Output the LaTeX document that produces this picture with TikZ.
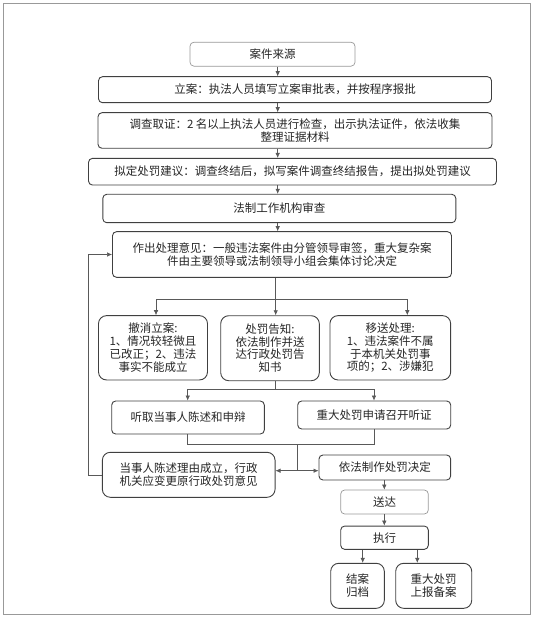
\documentclass[tikz,border=0pt]{standalone}
\usepackage{fontspec}
\setmainfont{Noto Sans CJK SC}
\usetikzlibrary{arrows.meta,positioning,calc}

\begin{document}
\begin{tikzpicture}[
  x=1pt, y=-1pt,
  >={Latex[length=5pt,width=4.5pt]},
  every node/.style={font=\fontsize{11.5}{12.8}\selectfont, text=black!85},
  box/.style={draw=black!75, line width=0.9pt, rounded corners=4pt, fill=white, align=center, inner sep=1pt},
  soft/.style={box, draw=black!40, line width=0.7pt},
  tall/.style={box, rounded corners=8pt},
  sz/.style 2 args={minimum width=#1pt, minimum height=#2pt},
  rel/.style={->, line width=0.6pt, draw=black!65},
  wire/.style={line width=0.6pt, draw=black!65}
]
\useasboundingbox (0,0) rectangle (548,617);
\draw[black!40, line width=0.8pt] (3.5,3.5) rectangle (530,614);

\node[soft, sz={165}{24}]   (src)      at (272.5,54.2)  {案件来源};
\node[box,  sz={393}{26}]   (lian)     at (295,89.7)    {立案：执法人员填写立案审批表，并按程序报批};
\node[box,  sz={394}{35.6}] (diaocha)  at (295,130.5)   {调查取证：2 名以上执法人员进行检查，出示执法证件，依法收集\\整理证据材料};
\node[box,  sz={408}{26.7}] (niding)   at (292.5,171.7) {拟定处罚建议：调查终结后，拟写案件调查终结报告，提出拟处罚建议};
\node[box,  sz={353}{28.4}] (shencha)  at (279.3,208.5) {法制工作机构审查};
\node[box,  sz={339}{45.6}] (yijian)   at (282,254.5)   {作出处理意见：一般违法案件由分管领导审签，重大复杂案\\件由主要领导或法制领导小组会集体讨论决定};
\node[tall, sz={109}{64.3}] (chexiao)  at (153,347.8)   {撤消立案:\\1、情况较轻微且\\已改正；2、违法\\事实不能成立};
\node[tall, sz={98.6}{65}]  (gaozhi)   at (270,348.2)   {处罚告知:\\依法制作并送\\达行政处罚告\\知书};
\node[tall, sz={120.7}{64.3}] (yisong) at (390.3,347.8) {移送处理:\\1、违法案件不属\\于本机关处罚事\\项的；2、涉嫌犯};
\node[box,  sz={152.6}{33}] (tingqu)   at (188,417.5)   {听取当事人陈述和申辩};
\node[box,  sz={153}{28}]   (tingzheng) at (374.2,415)  {重大处罚申请召开听证};
\node[tall, sz={172.7}{45}] (chengli)  at (188.7,474.8) {当事人陈述理由成立，行政\\机关应变更原行政处罚意见};
\node[box,  sz={131.7}{25}] (jueding)  at (384.8,467.5) {依法制作处罚决定};
\node[soft, sz={87.6}{24}]  (songda)   at (384.5,502)   {送达};
\node[box,  sz={87.6}{23.3}] (zhixing) at (384.5,537.7) {执行};
\node[tall, sz={53.6}{45}]  (jiean)    at (357.5,585.8) {结案\\归档};
\node[tall, sz={76}{45}]    (shangbao) at (433.7,585.8) {重大处罚\\上报备案};

\coordinate (spine) at (277.7,0);
\coordinate (mid)   at (275.7,0);
\coordinate (bl)    at (156,299);
\coordinate (brr)   at (407.3,299);
\coordinate (hl)    at (187.7,389);
\coordinate (hr)    at (374,389);
\coordinate (jl)    at (187.7,444);
\coordinate (jr)    at (374,444);
\coordinate (jm)    at (297.3,444);
\coordinate (jd)    at (297.3,470.7);
\coordinate (loop)  at (88.3,254.5);
\coordinate (tail)  at (384.3,0);
\coordinate (ka)    at (362.7,0);
\coordinate (kb)    at (417.3,0);

\foreach \a/\b in {src/lian, lian/diaocha, diaocha/niding, niding/shencha, shencha/yijian}
  \draw[rel] (\a.south -| spine) -- (\b.north -| spine);

\draw[rel] (yijian.south -| mid) -- (gaozhi.north -| mid);
\draw[wire] (bl) -- (brr);
\draw[rel] (bl) -- (bl |- chexiao.north);
\draw[rel] (brr) -- (brr |- yisong.north);

\draw[wire] (gaozhi.south -| mid) -- (mid |- hl);
\draw[wire] (hl) -- (hr);
\draw[rel] (hl) -- (hl |- tingqu.north);
\draw[rel] (hr) -- (hr |- tingzheng.north);

\draw[wire] (tingqu.south -| jl) -- (jl) -- (jr) -- (tingzheng.south -| jr);
\draw[wire] (jm) -- (jd);
\draw[rel] (jd) -- (jd -| chengli.east);
\draw[rel] (jd) -- (jd -| jueding.west);

\draw[rel] (chengli.west) -| (loop) -- (yijian.west);

\draw[rel] (jueding.south -| tail) -- (songda.north -| tail);
\draw[rel] (songda.south -| tail) -- (zhixing.north -| tail);
\draw[rel] (zhixing.south -| ka) -- (jiean.north -| ka);
\draw[rel] (zhixing.south -| kb) -- (shangbao.north -| kb);
\end{tikzpicture}
\end{document}
